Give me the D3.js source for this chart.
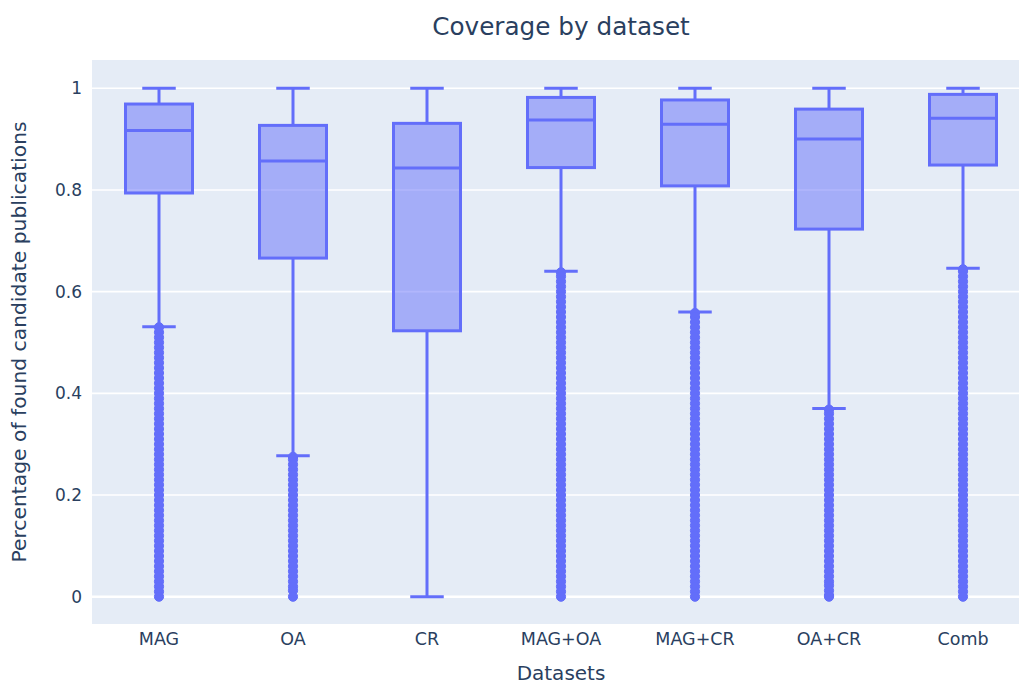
<!DOCTYPE html>
<html>
<head>
<meta charset="utf-8">
<script src="https://cdn.jsdelivr.net/npm/d3@7"></script>
<style>
  html, body { margin: 0; padding: 0; background: #fff; }
  svg { display: block; }
  text { font-family: "DejaVu Sans", Verdana, sans-serif; fill: #2a3f5f; }
</style>
</head>
<body>
<svg id="chart" width="1019" height="685"></svg>
<script>
// Datasets compared
const categories = ["MAG", "OA", "CR", "MAG+OA", "MAG+CR", "OA+CR", "Comb"];

// Box statistics per dataset
const lowerFence = [0.531, 0.277, 0.000, 0.640, 0.560, 0.370, 0.646];
const q1         = [0.794, 0.666, 0.523, 0.844, 0.808, 0.723, 0.849];
const median     = [0.917, 0.857, 0.843, 0.9375, 0.929, 0.900, 0.941];
const q3         = [0.969, 0.927, 0.931, 0.982, 0.977, 0.959, 0.988];
const upperFence = [1.000, 1.000, 1.000, 1.000, 1.000, 1.000, 1.000];

// Outlying values below the lower fence
const outliersMAG = [0.53, 0.52, 0.51, 0.50, 0.49, 0.48, 0.47, 0.46, 0.45, 0.44, 0.43, 0.42, 0.41, 0.40,
  0.39, 0.38, 0.37, 0.36, 0.35, 0.34, 0.33, 0.32, 0.31, 0.30, 0.29, 0.28, 0.27, 0.26, 0.25, 0.24, 0.23,
  0.22, 0.21, 0.20, 0.19, 0.18, 0.17, 0.16, 0.15, 0.14, 0.13, 0.12, 0.11, 0.10, 0.09, 0.08, 0.07, 0.06,
  0.05, 0.04, 0.03, 0.02, 0.01, 0.0];
const outliersOA = [0.275, 0.27, 0.26, 0.25, 0.24, 0.23, 0.22, 0.21, 0.20, 0.19, 0.18, 0.17, 0.16, 0.15,
  0.14, 0.13, 0.12, 0.11, 0.10, 0.09, 0.08, 0.07, 0.06, 0.05, 0.04, 0.03, 0.02, 0.012, 0.0];
const outliersCR = [];
const outliersMAGOA = [0.638, 0.63, 0.62, 0.61, 0.60, 0.59, 0.58, 0.57, 0.56, 0.55, 0.54, 0.53, 0.52, 0.51,
  0.50, 0.49, 0.48, 0.47, 0.46, 0.45, 0.44, 0.43, 0.42, 0.41, 0.40, 0.39, 0.38, 0.37, 0.36, 0.35, 0.34,
  0.33, 0.32, 0.31, 0.30, 0.29, 0.28, 0.27, 0.26, 0.25, 0.24, 0.23, 0.22, 0.21, 0.20, 0.19, 0.18, 0.17,
  0.16, 0.15, 0.14, 0.13, 0.12, 0.11, 0.10, 0.09, 0.08, 0.07, 0.06, 0.05, 0.04, 0.03, 0.02, 0.01, 0.0];
const outliersMAGCR = [0.558, 0.55, 0.54, 0.53, 0.52, 0.51, 0.50, 0.49, 0.48, 0.47, 0.46, 0.45, 0.44, 0.43,
  0.42, 0.41, 0.40, 0.39, 0.38, 0.37, 0.36, 0.35, 0.34, 0.33, 0.32, 0.31, 0.30, 0.29, 0.28, 0.27, 0.26,
  0.25, 0.24, 0.23, 0.22, 0.21, 0.20, 0.19, 0.18, 0.17, 0.16, 0.15, 0.14, 0.13, 0.12, 0.11, 0.10, 0.09,
  0.08, 0.07, 0.06, 0.05, 0.04, 0.03, 0.02, 0.01, 0.0];
const outliersOACR = [0.368, 0.36, 0.35, 0.34, 0.33, 0.32, 0.31, 0.30, 0.29, 0.28, 0.27, 0.26, 0.25, 0.24,
  0.23, 0.22, 0.21, 0.20, 0.19, 0.18, 0.17, 0.16, 0.15, 0.14, 0.13, 0.12, 0.11, 0.10, 0.09, 0.08, 0.07,
  0.06, 0.05, 0.04, 0.03, 0.022, 0.012, 0.003, 0.0];
const outliersComb = [0.644, 0.64, 0.63, 0.62, 0.61, 0.60, 0.59, 0.58, 0.57, 0.56, 0.55, 0.54, 0.53, 0.52,
  0.51, 0.50, 0.49, 0.48, 0.47, 0.46, 0.45, 0.44, 0.43, 0.42, 0.41, 0.40, 0.39, 0.38, 0.37, 0.36, 0.35,
  0.34, 0.33, 0.32, 0.31, 0.30, 0.29, 0.28, 0.27, 0.26, 0.25, 0.24, 0.23, 0.22, 0.21, 0.20, 0.19, 0.18,
  0.17, 0.16, 0.15, 0.14, 0.13, 0.12, 0.11, 0.10, 0.09, 0.08, 0.07, 0.06, 0.05, 0.04, 0.03, 0.02, 0.01, 0.0];
const outliers = [outliersMAG, outliersOA, outliersCR, outliersMAGOA, outliersMAGCR, outliersOACR, outliersComb];

const yTicks = [0, 0.2, 0.4, 0.6, 0.8, 1];
const yTickLabels = ["0", "0.2", "0.4", "0.6", "0.8", "1"];

const titleText = "Coverage by dataset";
const xTitle = "Datasets";
const yTitle = "Percentage of found candidate publications";

// Layout
const plot = { left: 92, top: 60, right: 1030, bottom: 624 };
const lineColor = "#636efa";
const fillColor = "rgba(99,110,250,0.5)";
const bgColor = "#E5ECF6";
const fontStack = '"DejaVu Sans", Verdana, sans-serif';

const svg = d3.select("#chart");

const x = d3.scaleBand().domain(categories).range([plot.left, plot.right]).paddingInner(0).paddingOuter(0);
const y = d3.scaleLinear().domain([-0.0537, 1.0556]).range([plot.bottom, plot.top]);

// Plot background
svg.append("rect")
  .attr("x", plot.left).attr("y", plot.top)
  .attr("width", plot.right - plot.left).attr("height", plot.bottom - plot.top)
  .attr("fill", bgColor);

// Horizontal grid
svg.append("g").selectAll("line").data(yTicks).join("line")
  .attr("x1", plot.left).attr("x2", plot.right)
  .attr("y1", d => y(d)).attr("y2", d => y(d))
  .attr("stroke", "#fff")
  .attr("stroke-width", d => d === 0 ? 2.5 : 1.6);

// Y axis labels
const yAxis = d3.axisLeft(y).tickValues(yTicks).tickFormat((d, i) => yTickLabels[i]).tickSize(0).tickPadding(10);
const yG = svg.append("g").attr("transform", `translate(${plot.left},0)`).call(yAxis);
yG.select(".domain").remove();
yG.selectAll("text").attr("font-size", 17).attr("fill", "#2a3f5f").style("font-family", fontStack);

// X axis labels
const xAxis = d3.axisBottom(x).tickSize(0).tickPadding(9);
const xG = svg.append("g").attr("transform", `translate(0,${plot.bottom})`).call(xAxis);
xG.select(".domain").remove();
xG.selectAll("text").attr("font-size", 17.5).attr("fill", "#2a3f5f").style("font-family", fontStack);

// Boxes
const boxW = x.bandwidth() * 0.5;
const capW = boxW * 0.5;
const boxes = svg.append("g").selectAll("g").data(categories).join("g")
  .attr("transform", d => `translate(${x(d) + x.bandwidth() / 2},0)`);

boxes.each(function (cat, i) {
  const g = d3.select(this);
  // whiskers
  g.append("line").attr("x1", 0).attr("x2", 0)
    .attr("y1", y(q3[i])).attr("y2", y(upperFence[i]))
    .attr("stroke", lineColor).attr("stroke-width", 3);
  g.append("line").attr("x1", 0).attr("x2", 0)
    .attr("y1", y(q1[i])).attr("y2", y(lowerFence[i]))
    .attr("stroke", lineColor).attr("stroke-width", 3);
  // caps
  [upperFence[i], lowerFence[i]].forEach(v => {
    g.append("line").attr("x1", -capW / 2).attr("x2", capW / 2)
      .attr("y1", y(v)).attr("y2", y(v))
      .attr("stroke", lineColor).attr("stroke-width", 3);
  });
  // box
  g.append("rect")
    .attr("x", -boxW / 2).attr("width", boxW)
    .attr("y", y(q3[i])).attr("height", y(q1[i]) - y(q3[i]))
    .attr("fill", fillColor).attr("stroke", lineColor).attr("stroke-width", 3);
  // median
  g.append("line").attr("x1", -boxW / 2).attr("x2", boxW / 2)
    .attr("y1", y(median[i])).attr("y2", y(median[i]))
    .attr("stroke", lineColor).attr("stroke-width", 3);
  // outlier points
  g.selectAll("circle").data(outliers[i]).join("circle")
    .attr("cx", 0).attr("cy", d => y(d)).attr("r", 4.6)
    .attr("fill", lineColor)
    .attr("stroke", lineColor).attr("stroke-width", 1);
});

// Titles
svg.append("text").attr("x", (plot.left + plot.right) / 2).attr("y", 35)
  .attr("text-anchor", "middle").attr("font-size", 24.7).text(titleText);

svg.append("text").attr("x", (plot.left + plot.right) / 2).attr("y", 680)
  .attr("text-anchor", "middle").attr("font-size", 20).text(xTitle);

svg.append("text")
  .attr("transform", `translate(26,${(plot.top + plot.bottom) / 2}) rotate(-90)`)
  .attr("text-anchor", "middle").attr("font-size", 20.3).text(yTitle);
</script>
</body>
</html>
